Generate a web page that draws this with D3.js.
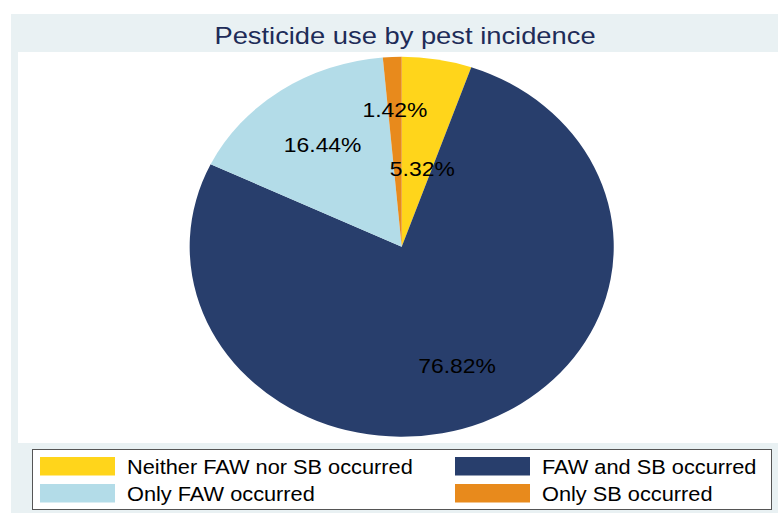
<!DOCTYPE html>
<html>
<head>
<meta charset="utf-8">
<script src="https://cdn.jsdelivr.net/npm/d3@7"></script>
<style>
  html, body { margin: 0; padding: 0; background: #ffffff; }
  svg { display: block; }
  text { font-family: "Liberation Sans", Arial, Helvetica, sans-serif; }
</style>
</head>
<body>
<svg id="chart" width="779" height="513"></svg>
<script>
// ---- data ----
const categories = ["Neither FAW nor SB occurred", "FAW and SB occurred", "Only FAW occurred", "Only SB occurred"];
const values = [5.32, 76.82, 16.44, 1.42];
const valueLabels = ["5.32%", "76.82%", "16.44%", "1.42%"];
const colors = ["#FFD51B", "#283E6C", "#B3DCE8", "#E88A1C"];
const titleText = "Pesticide use by pest incidence";

// ---- layout / style ----
const W = 779, H = 513;
const sx = 1.116;                 // horizontal stretch of the original graph
const cx = 401.7, cy = 246.7, R = 190;
const labelRadiusFrac = [0.42, 0.68, 0.655, 0.72];
const labelAngleShiftDeg = [3.8, 0, 0, 0];

const svg = d3.select("#chart");

// outer graph region
svg.append("rect").attr("x", 11).attr("y", 14).attr("width", 767).attr("height", H - 14)
  .attr("fill", "#E9F1F3");
// plot region
svg.append("rect").attr("x", 18).attr("y", 52).attr("width", 760).attr("height", 391)
  .attr("fill", "#ffffff");

// title
svg.append("text")
  .attr("transform", `translate(405,44) scale(${sx},1)`)
  .attr("text-anchor", "middle")
  .attr("font-size", 24.5)
  .attr("fill", "#1E2C58")
  .text(titleText);

// pie
const pie = d3.pie().sort(null).value(d => d);
const arcs = pie(values);
const arc = d3.arc().innerRadius(0).outerRadius(R);

const g = svg.append("g").attr("transform", `translate(${cx},${cy}) scale(${sx},1)`);
g.selectAll("path").data(arcs).enter().append("path")
  .attr("d", arc)
  .attr("fill", (d, i) => colors[i]);

// slice labels
arcs.forEach((d, i) => {
  const r = labelRadiusFrac[i] * R;
  const shift = labelAngleShiftDeg[i] * Math.PI / 180;
  const c = d3.arc().innerRadius(r).outerRadius(r)
    .centroid({ startAngle: d.startAngle + shift, endAngle: d.endAngle + shift });
  svg.append("text")
    .attr("transform", `translate(${cx + sx * c[0]},${cy + c[1]}) scale(${sx},1)`)
    .attr("text-anchor", "middle")
    .attr("dy", "0.36em")
    .attr("font-size", 20.5)
    .attr("fill", "#000000")
    .text(valueLabels[i]);
});

// legend
const lg = svg.append("g");
lg.append("rect").attr("x", 32.5).attr("y", 449.5).attr("width", 739).attr("height", 60)
  .attr("fill", "#ffffff").attr("stroke", "#555555").attr("stroke-width", 1);

const colX = [40, 455];
const rowY = [457, 484];
categories.forEach((cat, i) => {
  const col = i % 2, row = Math.floor(i / 2);
  lg.append("rect")
    .attr("x", colX[col]).attr("y", rowY[row])
    .attr("width", 75).attr("height", 18.5)
    .attr("fill", colors[i]);
  lg.append("text")
    .attr("transform", `translate(${colX[col] + 87},${rowY[row] + 16.5}) scale(${sx},1)`)
    .attr("font-size", 19.5)
    .attr("fill", "#000000")
    .text(cat);
});
</script>
</body>
</html>
